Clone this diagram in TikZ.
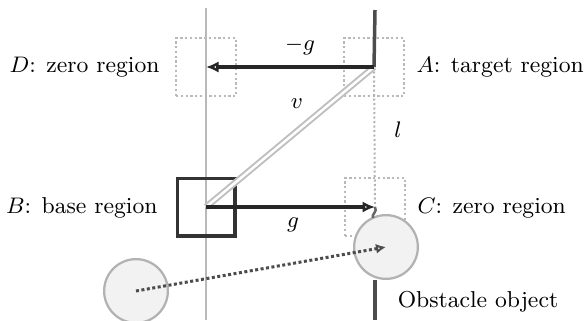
\documentclass[tikz,border=0pt]{standalone}
\usetikzlibrary{arrows.meta}
\begin{document}
\begin{tikzpicture}[x=0.4pt,y=-0.4pt,
  lbl/.style={inner sep=0pt,font=\fontsize{9.2}{11}\selectfont},
  region/.style={draw=gray!55,densely dotted,line width=0.9pt,minimum width=24pt,minimum height=23pt,inner sep=0pt},
  basebox/.style={draw=black!80,line width=1.4pt,minimum width=23pt,minimum height=23pt,inner sep=0pt},
  guide/.style={draw=gray!55,line width=1.1pt},
  darkline/.style={draw=black!70,line width=1.4pt},
  vec/.style={draw=black!85,line width=1.4pt,-{Latex[length=5pt,width=4.5pt,open]}},
  obst/.style={circle,draw=gray!60,line width=0.9pt,fill=gray!10,minimum size=25.5pt,inner sep=0pt}]
\useasboundingbox (0,0) rectangle (584,320);
% guide lines
\coordinate (Ltop) at (206,8);
\coordinate (Lbot) at (206,320);
\draw[guide] (Ltop) -- (Lbot);
% regions
\node[region] (D) at (206,67) {};
\node[region] (A) at (374,67) {};
\node[basebox] (B) at (206,207) {};
\node[region] (C) at (375,207) {};
% obstacle
\node[obst] (O) at (386,247) {};
\node[obst] (P) at (136,291) {};
% right line
\coordinate (Rtop) at (375,10);
\coordinate (Rbot) at (375,320);
\draw[darkline] (Rtop) -- (A.center);
\draw[gray!60,densely dotted,line width=0.8pt] (A.center) -- (375,215);
\draw[darkline] (O.south -| Rbot) -- (Rbot);
\draw[black!60,line width=1pt] (C.center) .. controls (378,212) and (371,214) .. (373,218);
% vectors
\draw[draw=gray!50,double=white,double distance=1pt,line width=0.8pt] (B.center) -- (A.center);
\draw[vec] (A.center) -- (D.center);
\draw[vec] (B.center) -- (C.center);
\draw[black!70,densely dotted,line width=1.2pt,-{Latex[length=4pt,width=4pt,open]}] (P.center) -- (O.center);
% labels
\node[lbl,anchor=east] (Dl) at (160,67) {$D$: zero region};
\node[lbl,anchor=west] (Al) at (416,67) {$A$: target region};
\node[lbl,anchor=east] (Bl) at (158,208) {$B$: base region};
\node[lbl,anchor=west] (Cl) at (417,208) {$C$: zero region};
\node[lbl] (mg) at (300,46) {$-g$};
\node[lbl] (vl) at (297,104) {$v$};
\node[lbl] (ll) at (398,130) {$l$};
\node[lbl] (gl) at (293,225) {$g$};
\node[lbl] (obl) at (478,302) {Obstacle object};
\end{tikzpicture}
\end{document}
